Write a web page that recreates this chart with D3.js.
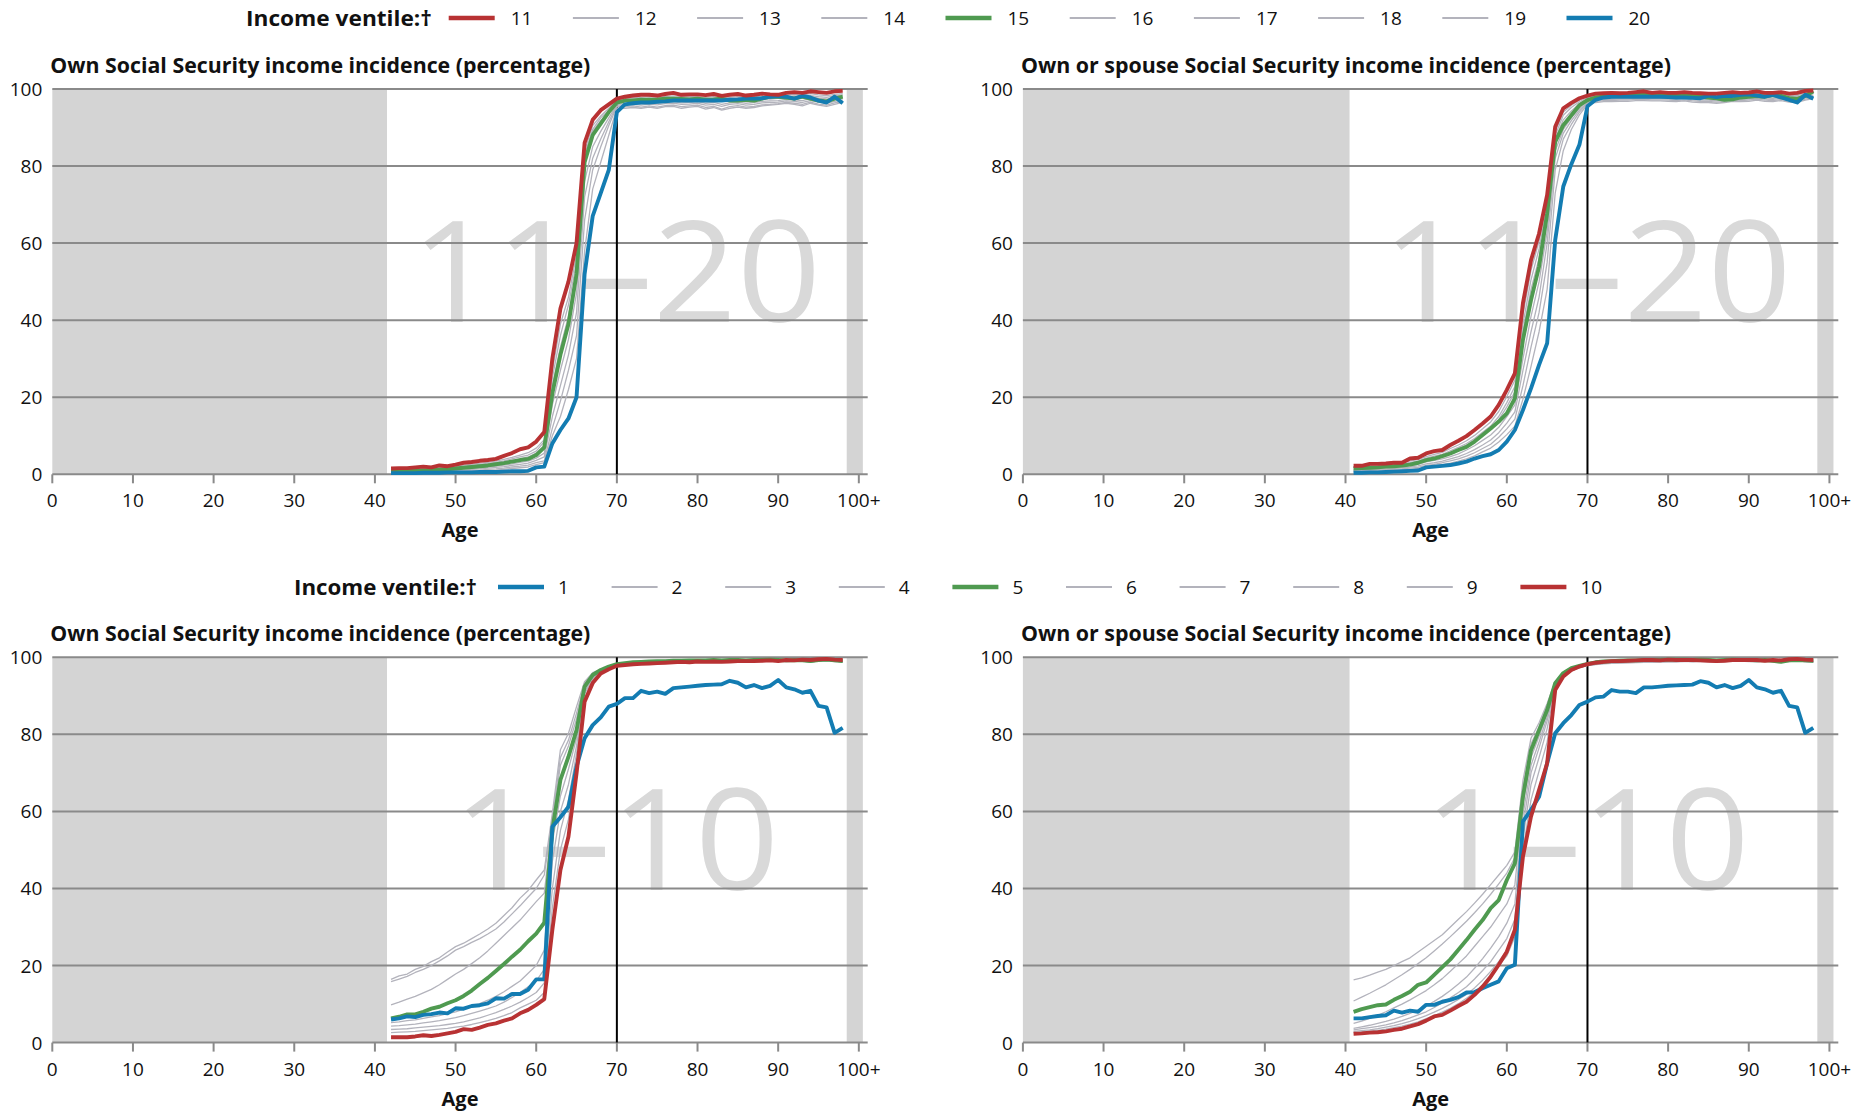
<!DOCTYPE html>
<html><head><meta charset="utf-8">
<script src="https://cdn.jsdelivr.net/npm/d3@7"></script>
<style>body{margin:0;background:#fff}svg{display:block}text{font-family:"Open Sans",sans-serif}</style>
</head><body><svg id="c" width="1870" height="1112"></svg>
<script>
// ---------- categories / ticks ----------
const agesOwn = [42,43,44,45,46,47,48,49,50,51,52,53,54,55,56,57,58,59,60,61,62,63,64,65,66,67,68,69,70,71,72,73,74,75,76,77,78,79,80,81,82,83,84,85,86,87,88,89,90,91,92,93,94,95,96,97,98];
const agesSpouse = [41,42,43,44,45,46,47,48,49,50,51,52,53,54,55,56,57,58,59,60,61,62,63,64,65,66,67,68,69,70,71,72,73,74,75,76,77,78,79,80,81,82,83,84,85,86,87,88,89,90,91,92,93,94,95,96,97,98];
const xTickValues = [0,10,20,30,40,50,60,70,80,90,100];
const xTickLabels = ["0","10","20","30","40","50","60","70","80","90","100+"];
const yTickValues = [0,20,40,60,80,100];
const highVentiles = ["11","12","13","14","15","16","17","18","19","20"];
const lowVentiles = ["1","2","3","4","5","6","7","8","9","10"];
const highKinds = ["red","grey","grey","grey","green","grey","grey","grey","grey","blue"];
const lowKinds = ["blue","grey","grey","grey","green","grey","grey","grey","grey","red"];

// ---------- Own SS, ventiles 11-20 (ages 42-98) ----------
const ownV11 = [1.5,1.6,1.6,1.8,2,1.8,2.3,2.1,2.5,3,3.2,3.5,3.7,4,4.8,5.5,6.5,7,8.5,11, 30,43,50,60,86,92,94.5,96,97.5, 98,98.3,98.5,98.5,98.3,98.7,99,98.5,98.6,98.6,98.4,98.7,98.2,98.5,98.7,98.3,98.5,98.8,98.6,98.5,99,99.2,99,99.4,99.2,99,99.4,99.5];
const ownV12 = [1.3,1.4,1.4,1.5,1.6,1.6,1.8,1.9,2.1,2.4,2.6,2.9,3.1,3.4,3.9,4.4,5,5.6,6.8,9, 27,39,46,57,84,90.5,93,95,97, 97.6,97.8,97.8,98,97.8,98,98.2,98,98,98,97.8,98,97.6,97.8,98,97.8,98,98.2,98,98,98.4,98.6,98.4,98.8,98.5,98.3,98.6,98.8];
const ownV13 = [1.1,1.2,1.2,1.3,1.4,1.4,1.6,1.6,1.9,2.1,2.3,2.6,2.8,3.1,3.5,4,4.5,5,6,8.5, 25,36,44,55,83,89.5,92.5,94.5,96.8, 97.2,97.4,97.3,97.6,97.5,97.7,97.8,97.6,97.7,97.8,97.5,97.6,97.3,97.5,97.6,97.4,97.6,97.8,97.6,97.8,98,98.2,98,98.3,98,97.8,98.2,98.5];
const ownV14 = [1,1,1,1.1,1.2,1.3,1.4,1.5,1.7,1.9,2.1,2.3,2.5,2.8,3.2,3.6,4,4.5,5.5,7.5, 23,33,41,53,82,89,91.8,94,96.6, 96.8,97,97,97.2,97.1,97.4,97.4,97.2,97.2,97.4,97,97.2,96.8,97,97.2,97,97.2,97.5,97.4,97.6,97.8,97.8,97.6,98,97.6,97.4,97.8,98.2];
const ownV15 = [0.8,0.8,0.9,1,1,1.1,1.2,1.3,1.5,1.7,1.9,2.1,2.3,2.6,2.9,3.3,3.7,4,5,7, 21,31,39,52,81,88,91,94,96.5, 97,97,97.2,97.2,97.3,97.5,97.5,97.4,97.3,97.5,97.2,97.3,97.5,97,97,97.2,97,97.5,98,98,97.8,97.5,98,97.5,97,96.8,97.5,98];
const ownV16 = [0.7,0.7,0.7,0.8,0.8,0.9,1,1.1,1.2,1.4,1.5,1.7,1.9,2.1,2.4,2.7,3.1,3.4,4.2,5.5, 18,27,35,47,76,85,89,92.5,96, 96.2,96.3,96.2,96.5,96.3,96.6,96.7,96.4,96.5,96.7,96.3,96.5,96,96.4,96.6,96.3,96.5,96.8,96.9,97,97.3,97.2,97,97.5,97.1,96.8,97.3,97.6];
const ownV17 = [0.6,0.6,0.6,0.7,0.7,0.8,0.8,0.9,1,1.1,1.3,1.4,1.6,1.8,2,2.3,2.6,2.9,3.6,4.5, 15,23,31,42,72,82,87,91.5,95.8, 95.8,96,95.8,96.1,95.9,96.2,96.3,96,96.1,96.3,95.8,96,95.5,96,96.2,95.8,96,96.4,96.5,96.6,96.9,96.8,96.5,97,96.6,96.3,96.8,97.2];
const ownV18 = [0.5,0.5,0.5,0.5,0.6,0.6,0.7,0.7,0.8,0.9,1,1.1,1.3,1.4,1.6,1.9,2.1,2.4,3,3.5, 12,19,27,36,66,79,85,90.5,95.5, 95.4,95.6,95.3,95.6,95.3,95.7,95.8,95.4,95.6,95.8,95.2,95.5,94.8,95.4,95.7,95.3,95.5,95.9,96,96.2,96.5,96.3,96,96.6,96.1,95.8,96.4,96.8];
const ownV19 = [0.4,0.4,0.4,0.4,0.5,0.5,0.5,0.6,0.6,0.7,0.8,0.9,1,1.1,1.3,1.5,1.7,1.9,2.5,3, 10,15,22,30,58,74,81,88,95, 95,95.2,95,95.3,95,95.4,95.5,95,95.3,95.5,94.8,95.2,94.5,95,95.3,95,95.2,95.6,95.8,96,96.3,96,95.6,96.3,95.8,95.5,96,96.5];
const ownV20 = [0.3,0.3,0.3,0.3,0.4,0.4,0.4,0.5,0.5,0.5,0.5,0.6,0.6,0.6,0.7,0.8,0.8,0.9,1.8,2, 8,11.5,14.5,20,52,67,73,79,94, 96,96.3,96.5,96.5,96.7,96.8,97,97,97,97,97,97,97,97.2,97.3,97.5,97.5,97.6,98,98.2,98,97.5,98.2,97.8,97,96.5,98,96.3];

// ---------- Own or spouse SS, ventiles 11-20 (ages 41-98) ----------
const spV11 = [2.2,2.2,2.7,2.7,2.8,3,3,4.1,4.3,5.4,6,6.3,7.6,8.7,9.9,11.5,13.2,15,18,21.9,26.2, 44.4,55.6,62.5,72.5,90.2,95,96.4,97.6,98.3, 98.8,98.9,99,98.9,99,99.2,99.4,99,99.2,99,99,99.2,99,98.9,98.8,98.8,99,99.2,99,99.1,99.4,99,99,99.2,98.8,99,99.5,99.6];
const spV12 = [2,2,2.3,2.4,2.6,2.8,3,3.5,3.8,4.6,5.2,5.7,6.7,7.6,8.7,10.1,11.8,13.6,16.3,20.2,24.4, 41.5,53,60.5,71,89,94,95.8,97.1,98, 98.5,98.6,98.7,98.6,98.7,98.9,99,98.8,98.9,98.8,98.7,98.9,98.7,98.6,98.5,98.4,98.5,98.8,98.7,98.8,99,98.8,98.7,99,98.6,98.6,99.1,99.3];
const spV13 = [1.8,1.9,2.1,2.2,2.4,2.6,2.7,3.1,3.4,4.2,4.7,5.2,6.1,7,8,9.3,10.9,12.5,15,18.6,22.8, 39,50.5,58.5,70,88,93.2,95.2,96.7,97.8, 98.3,98.4,98.5,98.4,98.5,98.6,98.7,98.6,98.6,98.5,98.4,98.6,98.4,98.3,98.2,98.1,98.2,98.5,98.4,98.5,98.8,98.5,98.4,98.7,98.3,98.3,98.8,99];
const spV14 = [1.7,1.7,1.9,2,2.2,2.4,2.5,2.8,3.2,3.9,4.4,4.9,5.7,6.6,7.6,8.8,10.3,11.8,14.2,17.5,21.4, 37,48,56,69,87,92,94.3,96.2,97.5, 98,98.2,98.2,98.2,98.2,98.4,98.4,98.3,98.3,98.2,98.1,98.3,98.1,98,97.9,97.8,97.9,98.2,98.1,98.2,98.5,98.2,98.1,98.4,98,98,98.5,98.8];
const spV15 = [1.5,1.6,1.7,1.8,2,2.1,2.3,2.5,3,3.7,4.1,4.7,5.4,6.3,7.1,8.5,10.2,11.9,13.7,15.8,19.7, 34.9,45.2,53.9,67.7,86.3,90.6,93.2,95.8,97.1, 97.8,98,98.2,98.3,98.3,98.4,98.5,98.4,98.5,98.4,98.3,98.2,98.2,98,97.8,97.6,97.2,97.3,97.8,98,98.2,98,98.4,98.2,97.6,97.4,98.2,99.4];
const spV16 = [1.2,1.3,1.4,1.5,1.7,1.8,2,2.3,2.6,3.2,3.6,4,4.6,5.3,6.3,7.4,8.8,10.2,12.2,15,18, 30,41,50,63,84,89.5,92.5,95,96.8, 97.4,97.6,97.6,97.7,97.7,97.9,97.9,97.8,97.8,97.7,97.6,97.8,97.5,97.4,97.4,97.2,97.4,97.7,97.6,97.7,98,97.7,97.6,97.9,97.5,97.4,98,98.4];
const spV17 = [1,1.1,1.2,1.3,1.4,1.5,1.7,1.9,2.2,2.7,3,3.4,4,4.6,5.4,6.4,7.6,8.9,10.8,13.3,16.2, 27,37,46,60,82,88.5,91.8,94.5,96.5, 97.1,97.3,97.3,97.4,97.4,97.6,97.6,97.5,97.5,97.4,97.3,97.5,97.2,97.1,97.1,96.9,97.1,97.4,97.3,97.4,97.7,97.4,97.3,97.6,97.2,97.1,97.7,98.1];
const spV18 = [0.8,0.9,1,1.1,1.2,1.3,1.4,1.6,1.8,2.3,2.6,3,3.5,4,4.7,5.6,6.7,7.8,9.6,11.8,14.3, 23,33,42,55,79,87,90.8,94,96.2, 96.8,97,97,97.1,97.1,97.3,97.3,97.2,97.2,97.1,97,97.2,96.9,96.8,96.8,96.6,96.8,97.1,97,97.1,97.4,97.1,97,97.3,96.9,96.8,97.4,97.8];
const spV19 = [0.6,0.7,0.8,0.8,0.9,1,1.1,1.3,1.5,1.9,2.2,2.5,2.9,3.4,4,4.8,5.8,6.8,8.4,10.3,12.5, 19.5,28,37,48,73,84,89.5,93.3,96, 96.5,96.7,96.7,96.8,96.8,97,97,96.9,96.9,96.8,96.7,96.9,96.6,96.5,96.5,96.3,96.5,96.8,96.7,96.8,97.1,96.8,96.7,97,96.6,96.5,97.1,97.5];
const spV20 = [0.4,0.4,0.5,0.5,0.6,0.7,0.8,0.9,1,1.8,2,2.2,2.4,2.8,3.3,4.1,4.7,5.2,6.3,8.5,11.5, 16.7,22.3,28.4,34,60.8,74.7,80.5,85.5,95.5, 97.2,97.8,98,98,98,98,98,98,98,97.9,97.8,97.8,97.7,97.6,98.3,97.9,98.2,98.2,98.5,98.6,98.3,98,98.5,97.8,97.2,96.5,98.5,97.5];

// ---------- Own SS, ventiles 1-10 (ages 42-98) ----------
const ownV1 = [6,6.3,6.8,6.6,7.2,7.4,7.8,7.6,8.9,8.8,9.5,9.7,10.2,11.5,11.4,12.6,12.6,13.7,16.4,16.4, 56,58.5,61.2,71.6,79,82.4,84.4,87.2,87.9, 89.4,89.4,91.3,90.7,91.1,90.5,92,92.2,92.4,92.6,92.8,92.9,93,93.9,93.4,92.2,92.8,92,92.6,94.1,92.2,91.7,90.8,91.3,87.4,87,80.4,81.7];
const ownV2 = [16.4,17.3,17.8,19,19.8,21,22,23.5,24.9,25.8,27,28.2,29.5,31,33,35,37.5,39.5,42.2,44.8, 59.5,76,80.3,87.2,93.7,96,96.9,97.6,98, 98.4,98.6,98.7,98.8,98.8,98.9,99,99,99,99.1,99.1,99.2,99.1,99.2,99.2,99.1,99.2,99.2,99.3,99.2,99.1,99.2,99.2,99,99.2,99.4,99.1,99];
const ownV3 = [15.8,16.5,17.2,18.2,19,20,21.2,22.5,24,24.9,26,27,28.2,29.5,31.3,33.4,35.5,37.8,40,43.5, 58,74,78.5,85.5,93.2,95.7,96.7,97.5,98, 98.3,98.5,98.6,98.7,98.7,98.8,98.9,98.9,98.9,99,99,99.1,99,99.1,99.1,99,99.1,99.1,99.2,99.1,99,99.1,99.1,98.9,99.1,99.3,99,98.9];
const ownV4 = [9.8,10.5,11.3,12,12.9,13.8,15,16.4,17.8,19,20.5,22,23.8,25.8,27.8,29.8,31.8,34.2,36.6,38.8, 57,72,77,84,93,95.6,96.6,97.4,97.9, 98.2,98.4,98.5,98.6,98.6,98.7,98.8,98.8,98.8,98.9,98.9,99,98.9,99,99,98.9,99,99,99.1,99,98.9,99,99,98.8,99,99.2,98.9,98.8];
const ownV5 = [6.3,6.7,7.3,7.3,8,8.8,9.3,10.2,11,12.1,13.5,15.2,16.8,18.6,20.4,22.3,24.1,26.3,28.3,31.1, 55.2,68.2,74.2,81.1,92.4,95.4,96.7,97.6,98.2, 98.5,98.7,98.8,98.9,99,99,99.1,99.1,99.2,99.2,99.2,99.3,99.2,99.3,99.3,99.2,99.3,99.3,99.4,99.3,99.2,99.3,99.2,99,99.3,99.4,99.2,99];
const ownV6 = [5.2,5.4,5.7,5.9,6.3,6.7,7,7.5,8,8.7,9.4,10.1,11,12,13.2,14.6,16,18,20,24, 52,64,71,79,91.5,95,96.5,97.3,97.9, 98.2,98.4,98.5,98.6,98.7,98.7,98.8,98.8,98.9,98.9,99,99,99,99,99.1,99,99.1,99.1,99.2,99.1,99,99.1,99.1,98.9,99.1,99.3,99,98.9];
const ownV7 = [4.3,4.4,4.6,4.8,5.1,5.4,5.7,6.1,6.5,7,7.6,8.2,8.8,9.5,10.5,11.7,13,14.5,16,19, 47,60,67,77,91,94.7,96.3,97.2,97.8, 98.1,98.3,98.4,98.5,98.6,98.7,98.7,98.8,98.8,98.9,98.9,99,98.9,99,99,98.9,99,99.1,99.1,99,99,99.1,99,98.9,99.1,99.2,99,98.9];
const ownV8 = [3.4,3.5,3.6,3.8,4,4.2,4.4,4.7,5,5.4,5.9,6.4,7.1,7.8,8.6,9.5,10.5,11.7,13,15.5, 40,55,63,75,90.5,94.3,96.1,97.1,97.8, 98,98.2,98.3,98.5,98.5,98.6,98.7,98.7,98.8,98.8,98.9,98.9,98.9,99,99,98.9,99,99,99.1,99,99,99.1,99,98.8,99,99.2,99,98.8];
const ownV9 = [2.6,2.7,2.8,2.9,3.1,3.3,3.5,3.7,4,4.3,4.7,5.2,5.7,6.3,7,7.8,9,10,11,13, 35,50,58,72,89.5,93.8,95.9,97,97.7, 98,98.2,98.3,98.4,98.5,98.6,98.6,98.7,98.7,98.8,98.8,98.9,98.9,98.9,99,98.9,99,99,99.1,99,99,99.1,99,98.8,99,99.2,99,98.8];
const ownV10 = [1.4,1.4,1.4,1.6,1.9,1.7,2,2.4,2.8,3.5,3.3,3.9,4.6,5,5.7,6.3,7.6,8.5,9.8,11.3, 29.3,44.8,53.5,69.9,88.5,93.3,95.8,96.9,97.8, 98,98.2,98.3,98.4,98.5,98.6,98.7,98.8,98.7,98.9,98.8,98.9,98.8,98.9,99,99,99,99.1,99.2,99,99.3,99.2,99.4,99.3,99.5,99.6,99.4,99.3];

// ---------- Own or spouse SS, ventiles 1-10 (ages 41-98) ----------
const spV1 = [6.3,6.3,6.6,6.9,7.1,8.3,7.8,8.3,8,9.8,9.8,10.6,11.1,11.8,13,13.1,14.1,15,15.9,19.3,20.2, 57.4,60.4,63.8,72.5,80.3,82.9,85,87.6,88.5, 89.6,89.8,91.5,91.1,91.1,90.7,92.2,92.2,92.4,92.6,92.7,92.8,92.9,93.8,93.4,92.2,92.8,92,92.6,94.1,92.2,91.7,90.8,91.3,87.4,87,80.4,81.7];
const spV2 = [16.3,16.8,17.5,18.3,19,20,21,22,23.5,25,26.5,28,30,32,34,36.2,38.5,41,43.5,46,49.5, 68,79,83,88,93.7,96,97,97.7,98.2, 98.5,98.7,98.8,98.9,98.9,99,99.1,99.1,99.1,99.2,99.2,99.3,99.2,99.3,99.3,99.2,99.3,99.3,99.3,99.3,99.2,99.3,99.2,99.1,99.3,99.4,99.2,99.1];
const spV3 = [10.8,11.8,12.8,13.9,15,16.3,17.6,19,20.5,22,23.8,25.6,27.5,29.5,31.5,33.7,36,38.5,41.2,44,48, 66,77.5,82,87.5,93.5,95.8,96.9,97.6,98.1, 98.4,98.6,98.7,98.8,98.8,98.9,99,99,99,99.1,99.1,99.2,99.1,99.2,99.2,99.1,99.2,99.2,99.2,99.2,99.1,99.2,99.1,99,99.2,99.3,99.1,99];
const spV4 = [5,5.6,6.3,7.1,8,9,10,11.1,12.3,13.5,15,16.6,18.5,20.5,22.5,25,27.5,30,33,36,41, 62,74,79.5,85.5,93,95.6,96.8,97.5,98, 98.3,98.5,98.6,98.7,98.7,98.8,98.9,98.9,98.9,99,99,99.1,99,99.1,99.1,99,99.1,99.1,99.1,99.1,99,99.1,99,98.9,99.1,99.2,99,98.9];
const spV5 = [8,8.7,9.2,9.7,9.9,11.1,12.1,13.2,15,15.6,17.6,19.6,21.6,24.1,26.6,29.3,31.8,34.9,37,42.2,46.5, 63.8,75.9,81.1,86.3,93.3,95.9,97.2,97.8,98.3, 98.7,98.9,99,99.1,99.2,99.2,99.3,99.3,99.3,99.4,99.4,99.4,99.3,99.4,99.3,99.2,99.3,99.4,99.3,99.3,99.2,99.3,99.1,98.8,99.2,99.3,99.2,99.1];
const spV6 = [3.7,4.1,4.5,5,5.5,6.1,6.8,7.6,8.5,9.5,10.7,12,13.5,15.2,17,19.3,21.8,24.5,27.5,31,36, 59,72,78,84.5,92.7,95.4,96.7,97.4,98, 98.3,98.5,98.6,98.7,98.7,98.8,98.9,98.9,98.9,99,99,99.1,99,99.1,99.1,99,99.1,99.1,99.1,99.1,99,99.1,99,98.9,99.1,99.2,99,98.9];
const spV7 = [3.3,3.6,3.9,4.2,4.6,5.1,5.7,6.4,7.2,8,9.1,10.3,11.6,13,14.5,16.5,18.7,21,24,27,32, 56,70,76.5,83.5,92.4,95.2,96.6,97.4,97.9, 98.2,98.4,98.5,98.6,98.6,98.7,98.8,98.8,98.8,98.9,98.9,99,98.9,99,99,98.9,99,99,99,99,98.9,99,98.9,98.8,99,99.1,98.9,98.8];
const spV8 = [2.9,3.1,3.3,3.6,4,4.4,4.9,5.5,6.2,7,7.9,8.9,10,11.2,12.5,14.2,16.2,18.5,21,24,29, 53,67,74,81.5,92,95,96.5,97.3,97.9, 98.2,98.4,98.5,98.6,98.6,98.7,98.8,98.8,98.8,98.9,98.9,99,98.9,99,99,98.9,99,99,99,99,98.9,99,98.9,98.8,99,99.1,98.9,98.8];
const spV9 = [2.6,2.8,3,3.2,3.5,3.9,4.3,4.8,5.4,6.2,7,7.9,8.9,10.1,11.5,13,15,17.5,20,22.5,27.5, 50,63,70.5,78,91.7,94.9,96.5,97.3,97.9, 98.1,98.3,98.4,98.5,98.6,98.6,98.7,98.7,98.8,98.8,98.8,98.9,98.9,98.9,98.9,98.8,98.9,99,99,98.9,98.9,99,98.9,98.7,98.9,99.1,98.9,98.7];
const spV10 = [2.3,2.4,2.6,2.7,2.9,3.3,3.6,4.2,4.8,5.7,6.8,7.2,8.3,9.5,10.6,12.4,14.5,17.1,20.2,23.6,29.3, 48.3,58.7,65.6,72.5,91.5,95,96.7,97.6,98.2, 98.6,98.8,99,99,99.1,99.2,99.3,99.3,99.2,99.4,99.3,99.3,99.3,99.2,99.1,99,99.1,99.3,99.3,99.3,99.3,99.1,99.3,99.2,99.5,99.6,99.4,99.3];

// ---------- styling ----------
const COLORS = {red:"#B83233", green:"#4F9A50", blue:"#137CB2", grey:"#B3B3BC"};
const WIDTHS = {red:3.9, green:3.9, blue:3.9, grey:1.3};
const TITLE_OWN = "Own Social Security income incidence (percentage)";
const TITLE_SP = "Own or spouse Social Security income incidence (percentage)";

const panels = [
  {x0:52.3,  top:89,    title:TITLE_OWN, tw:540, ages:agesOwn,    wm:"11–20", wmw:410, names:highVentiles, kinds:highKinds,
   series:[ownV11,ownV12,ownV13,ownV14,ownV15,ownV16,ownV17,ownV18,ownV19,ownV20]},
  {x0:1022.9, top:89,   title:TITLE_SP,  tw:650, ages:agesSpouse, wm:"11–20", wmw:410, names:highVentiles, kinds:highKinds,
   series:[spV11,spV12,spV13,spV14,spV15,spV16,spV17,spV18,spV19,spV20]},
  {x0:52.3,  top:657.3, title:TITLE_OWN, tw:540, ages:agesOwn,    wm:"1–10", wmw:326, names:lowVentiles, kinds:lowKinds,
   series:[ownV1,ownV2,ownV3,ownV4,ownV5,ownV6,ownV7,ownV8,ownV9,ownV10]},
  {x0:1022.9, top:657.3,title:TITLE_SP,  tw:650, ages:agesSpouse, wm:"1–10", wmw:326, names:lowVentiles, kinds:lowKinds,
   series:[spV1,spV2,spV3,spV4,spV5,spV6,spV7,spV8,spV9,spV10]}
];

const svg = d3.select("#c");
const PW = 815.4, PH = 385.3;
const GRID = "#8A8A8A";

panels.forEach(p => {
  const g = svg.append("g").attr("transform", `translate(${p.x0},${p.top})`);
  const x = d3.scaleLinear().domain([0,101.1]).range([0,PW]);
  const y = d3.scaleLinear().domain([0,100]).range([PH,0]);
  const first = p.ages[0], last = p.ages[p.ages.length-1];

  // grey bands (no data regions)
  g.append("rect").attr("x",x(0)).attr("y",y(100)).attr("width",x(first-0.5)-x(0)).attr("height",PH).attr("fill","#D4D4D4");
  g.append("rect").attr("x",x(last+0.5)).attr("y",y(100)).attr("width",x(100.5)-x(last+0.5)).attr("height",PH).attr("fill","#D4D4D4");

  // watermark
  g.append("text").attr("x",x(69.9)).attr("y",y(39.6)).attr("text-anchor","middle")
    .attr("font-size",141).attr("fill","#D9D9D9")
    .attr("textLength",p.wmw).attr("lengthAdjust","spacingAndGlyphs").text(p.wm);

  // gridlines
  g.selectAll("line.grid").data(yTickValues).join("line").attr("class","grid")
    .attr("x1",x(0)).attr("x2",x(101.1)).attr("y1",d=>y(d)).attr("y2",d=>y(d))
    .attr("stroke",GRID).attr("stroke-width",2);

  // y axis labels
  g.selectAll("text.yl").data(yTickValues).join("text").attr("class","yl")
    .attr("x",-10).attr("y",d=>y(d)+7).attr("text-anchor","end")
    .attr("font-size",19).attr("fill","#111").text(d=>d);

  // x axis ticks and labels
  g.selectAll("line.xt").data(xTickValues).join("line").attr("class","xt")
    .attr("x1",d=>x(d)).attr("x2",d=>x(d)).attr("y1",PH).attr("y2",PH+9)
    .attr("stroke",GRID).attr("stroke-width",2);
  g.selectAll("text.xl").data(xTickValues).join("text").attr("class","xl")
    .attr("x",d=>x(d)).attr("y",PH+33).attr("text-anchor","middle")
    .attr("font-size",19).attr("fill","#111").text((d,i)=>xTickLabels[i]);

  // Age label
  g.append("text").attr("x",PW/2).attr("y",PH+63).attr("text-anchor","middle")
    .attr("font-size",20).attr("font-weight","bold").attr("fill","#111").text("Age");

  // title
  g.append("text").attr("x",-2).attr("y",-16).attr("font-size",22)
    .attr("font-weight","bold").attr("fill","#111")
    .attr("textLength",p.tw).attr("lengthAdjust","spacingAndGlyphs").text(p.title);

  // reference line at 70
  g.append("line").attr("x1",x(70)).attr("x2",x(70)).attr("y1",y(0)).attr("y2",y(100))
    .attr("stroke","#000").attr("stroke-width",2);

  // series
  const line = d3.line().defined(d=>d[1]!=null).x(d=>x(d[0])).y(d=>y(d[1]));
  const order = ["grey","green","blue","red"];
  const items = p.series.map((vals,i)=>({kind:p.kinds[i], name:p.names[i], pts:p.ages.map((a,j)=>[a,vals[j]])}));
  items.sort((a,b)=>order.indexOf(a.kind)-order.indexOf(b.kind));
  g.selectAll("path.s").data(items).join("path").attr("class","s")
    .attr("d",d=>line(d.pts)).attr("fill","none")
    .attr("stroke",d=>COLORS[d.kind]).attr("stroke-width",d=>WIDTHS[d.kind])
    .attr("stroke-linejoin","round");
});

// legends
function legend(cy, startSwatch, step, labelOff, names, kinds, titleX, titleW){
  const g = svg.append("g");
  g.append("text").attr("x",titleX).attr("y",cy+7.5).attr("font-size",21.5)
    .attr("font-weight","bold").attr("fill","#111")
    .attr("textLength",titleW).attr("lengthAdjust","spacingAndGlyphs").text("Income ventile:†");
  names.forEach((n,i)=>{
    const sx = startSwatch + i*step;
    g.append("line").attr("x1",sx).attr("x2",sx+46).attr("y1",cy).attr("y2",cy)
      .attr("stroke",COLORS[kinds[i]]).attr("stroke-width",kinds[i]==="grey"?2:4.5);
    g.append("text").attr("x",sx+labelOff).attr("y",cy+7).attr("font-size",19)
      .attr("fill","#111").text(n);
  });
}
legend(18, 448.7, 124.2, 62, highVentiles, highKinds, 246, 186);
legend(587, 498, 113.6, 60, lowVentiles, lowKinds, 294, 183);
</script></body></html>
